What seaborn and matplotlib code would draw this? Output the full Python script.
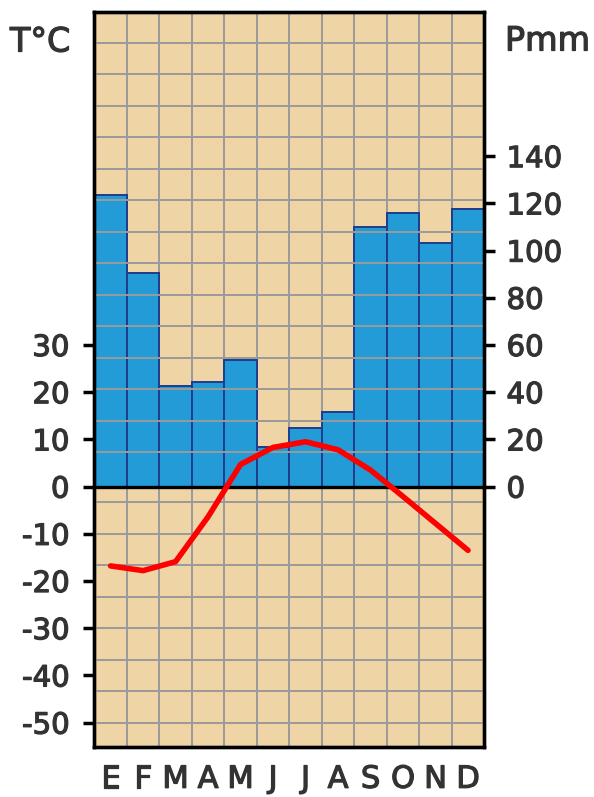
import numpy as np
import pandas as pd
import matplotlib
matplotlib.use("Agg")
import matplotlib.pyplot as plt
import matplotlib.patheffects as pe
import seaborn as sns

#month labels (spanish initials)
months = ["E", "F", "M", "A", "M", "J", "J", "A", "S", "O", "N", "D"]

#monthly precipitation in mm (bars)
precip = [123.6, 90.4, 42.6, 44.3, 53.6, 16.9, 24.7, 31.5, 109.9, 116.1, 103.1, 117.6]

#monthly mean temperature in C (red line)
temp = [-16.8, -17.8, -15.9, -6.4, 4.7, 8.3, 9.5, 7.8, 3.5, -2.1, -7.8, -13.5]

#axis ticks
temp_ticks = [-50, -40, -30, -20, -10, 0, 10, 20, 30]
precip_ticks = [0, 20, 40, 60, 80, 100, 120, 140]

df = pd.DataFrame({"idx": np.arange(len(months)), "precip": precip, "temp": temp})

sns.set_style("white")
plt.rcParams["font.family"] = ["DejaVu Sans"]

beige = "#EFD5A5"
blue = "#229BD6"
navy = "#1E3C8C"
grid_c = "#9A9A9A"
text_c = "#333333"

fig, ax = plt.subplots(figsize=(5.94, 7.97), dpi=100)
fig.subplots_adjust(left=0.1588, right=0.8153, bottom=0.0631, top=0.9853)
ax2 = ax.twinx()

#temperature axis in front, precipitation axis behind with the background
ax.set_zorder(2)
ax.patch.set_visible(False)
ax2.set_zorder(1)
ax2.patch.set_visible(True)
ax2.patch.set_facecolor(beige)

t_lo, t_hi = -55.1, 100.6
ax.set_ylim(t_lo, t_hi)
ax2.set_ylim(2 * t_lo, 2 * t_hi)

#vertical grid behind the bars (bar edges show navy)
for k in range(11):
    ax2.axvline(k + 0.5, color=grid_c, lw=1.4, zorder=0.5)

#precipitation bars
sns.barplot(data=df, x="idx", y="precip", ax=ax2, width=1.0, color=blue,
            edgecolor=navy, linewidth=1.4, saturation=1, zorder=1)

#horizontal grid drawn over the bars
step = 20 / 3
for k in range(1, 15):
    ax.axhline(100.67 - k * step, color=grid_c, lw=1.4, zorder=1)
for k in range(0, 8):
    ax.axhline(-50 + k * step, color=grid_c, lw=1.4, zorder=1)

#zero line
ax.axhline(0, color="black", lw=2.4, zorder=2)

#temperature line
sns.lineplot(data=df, x="idx", y="temp", ax=ax, color="#FF0000", lw=4,
             zorder=3, solid_capstyle="round", solid_joinstyle="round")

#ticks and labels
ax.set_xlim(-0.5, 11.5)
ax.set_xticks(np.arange(len(months)))
ax.set_xticklabels(months)
ax.set_yticks(temp_ticks)
ax.set_yticklabels([str(t) for t in temp_ticks])
ax2.set_yticks(precip_ticks)
ax2.set_yticklabels([str(p) for p in precip_ticks])

ax.tick_params(axis="y", left=True, length=8, width=2.5, color="black",
               labelsize=21, labelcolor=text_c, pad=10)
ax.tick_params(axis="x", bottom=False, length=0, labelsize=22,
               labelcolor=text_c, pad=13)
ax2.tick_params(axis="x", bottom=False, labelbottom=False, length=0)
ax2.tick_params(axis="y", right=True, length=8, width=2.5, color="black",
                labelsize=21, labelcolor=text_c, pad=8)

#slightly heavier text like the reference
thick = [pe.withStroke(linewidth=0.9, foreground=text_c)]
for lab in ax.get_xticklabels() + ax.get_yticklabels() + ax2.get_yticklabels():
    lab.set_path_effects(thick)

ax.set_xlabel("")
ax.set_ylabel("")
ax2.set_xlabel("")
ax2.set_ylabel("")

for a in (ax, ax2):
    for s in a.spines.values():
        s.set_color("black")
        s.set_linewidth(2.4)

#axis titles
fig.text(10 / 594, 1 - 42 / 797, "T\u00b0C", fontsize=24, color=text_c,
         ha="left", va="center", path_effects=thick)
fig.text(505 / 594, 1 - 41 / 797, "Pmm", fontsize=24, color=text_c,
         ha="left", va="center", path_effects=thick)

plt.savefig("out.png", dpi=100)
